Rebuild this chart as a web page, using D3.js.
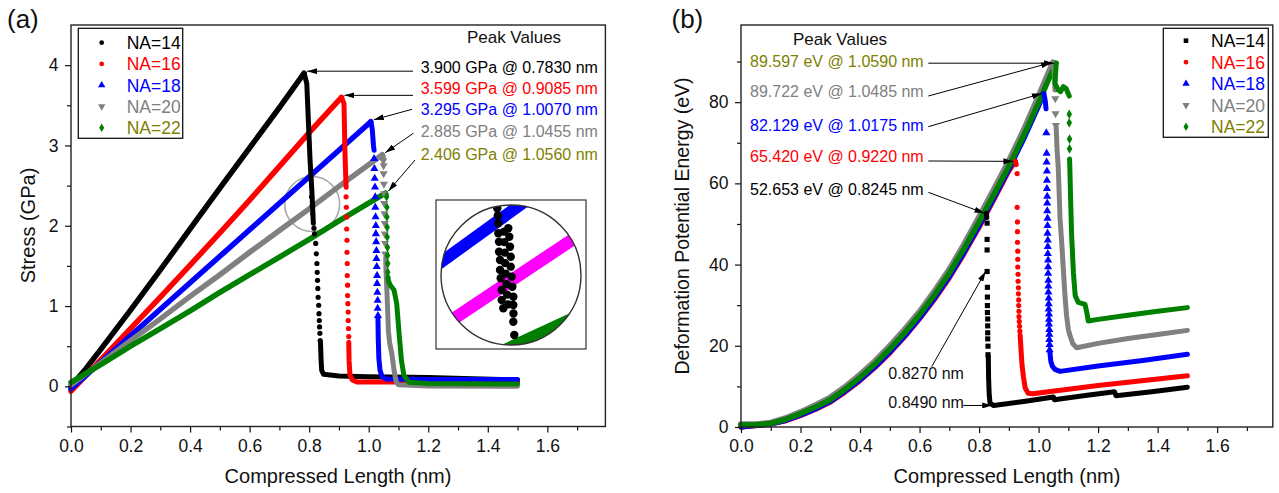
<!DOCTYPE html>
<html>
<head>
<meta charset="utf-8">
<script src="https://d3js.org/d3.v7.min.js"></script>
<style>
  body { margin: 0; background: #fff; }
  svg text { font-family: "Liberation Sans", Arial, sans-serif; }
</style>
</head>
<body>
<script>
// ---------------- shared ----------------
const seriesNames = ["NA=14", "NA=16", "NA=18", "NA=20", "NA=22"];
const markColors  = ["#000000", "#ff0000", "#0000ff", "#808080", "#008000"];
const labelColors = ["#000000", "#ff0000", "#0000ff", "#808080", "#808000"];
const shapesA = ["circle", "circle", "up", "down", "diamond"];
const shapesB = ["square", "circle", "up", "down", "diamond"];

const xTicks = [0, 0.2, 0.4, 0.6, 0.8, 1.0, 1.2, 1.4, 1.6];
const xMinor = [0.1, 0.3, 0.5, 0.7, 0.9, 1.1, 1.3, 1.5, 1.7];
const yTicksA = [0, 1, 2, 3, 4];
const yMinorA = [-0.5, 0.5, 1.5, 2.5, 3.5];
const yTicksB = [0, 20, 40, 60, 80];
const yMinorB = [10, 30, 50, 70, 90];

// ---------------- panel (a): stress vs compressed length ----------------
const aRise14 = [[0,0.00],[0.05,0.22],[0.10,0.46],[0.20,0.95],[0.30,1.45],[0.40,1.96],[0.50,2.47],[0.60,2.97],[0.70,3.47],[0.783,3.90]];
const aDrop14 = [[0.783,3.90],[0.792,3.77],[0.803,2.81],[0.809,2.44],[0.814,2.03]];
const aDots14 = [[0.808,2.36],[0.810,2.25],[0.812,2.15],[0.816,1.97],[0.818,1.90],[0.822,1.78],[0.824,1.65],[0.826,1.53],[0.827,1.42],[0.828,1.32],[0.829,1.22],[0.830,1.11],[0.832,1.01],[0.833,0.905],[0.834,0.82],[0.835,0.74],[0.836,0.66],[0.837,0.57]];
const aTail14 = [[0.838,0.55],[0.840,0.33],[0.842,0.20],[0.848,0.15],[0.90,0.13],[1.00,0.12],[1.20,0.11],[1.35,0.095],[1.50,0.08]];

const aRise16 = [[0,-0.06],[0.10,0.33],[0.20,0.72],[0.30,1.11],[0.40,1.51],[0.50,1.91],[0.60,2.32],[0.70,2.74],[0.80,3.16],[0.9085,3.599]];
const aDrop16 = [[0.9085,3.599],[0.917,3.52],[0.920,2.94],[0.924,2.48]];
const aDots16 = [[0.924,2.36],[0.925,2.23],[0.926,2.11],[0.926,1.96],[0.927,1.82],[0.927,1.67],[0.928,1.53],[0.928,1.38],[0.929,1.26],[0.929,1.13],[0.930,1.03],[0.931,0.925],[0.931,0.82],[0.932,0.72],[0.933,0.62]];
const aTail16 = [[0.933,0.55],[0.934,0.32],[0.937,0.14],[0.945,0.08],[0.96,0.055],[1.20,0.055],[1.50,0.055]];

const aRise18 = [[0,-0.03],[0.10,0.30],[0.20,0.63],[0.30,0.96],[0.40,1.29],[0.50,1.62],[0.60,1.95],[0.70,2.28],[0.80,2.61],[0.90,2.94],[1.007,3.295]];
const aDrop18 = [[1.007,3.295],[1.012,3.20],[1.016,3.00],[1.018,2.94]];
const aDots18 = [[1.018,2.835],[1.019,2.71],[1.020,2.59],[1.021,2.48],[1.022,2.36],[1.022,2.23],[1.023,2.11],[1.024,2.00],[1.024,1.90],[1.025,1.80],[1.026,1.69],[1.026,1.59],[1.027,1.49],[1.028,1.38],[1.028,1.28],[1.029,1.17],[1.030,1.07],[1.030,0.97],[1.031,0.88]];
const aTail18 = [[1.031,0.86],[1.032,0.60],[1.034,0.35],[1.038,0.20],[1.045,0.12],[1.06,0.09],[1.20,0.085],[1.50,0.085]];

const aRise20 = [[0,0.02],[0.10,0.29],[0.20,0.57],[0.30,0.84],[0.40,1.12],[0.50,1.39],[0.60,1.67],[0.70,1.94],[0.80,2.21],[0.90,2.49],[1.0455,2.885]];
const aDrop20 = [[1.0455,2.885],[1.049,2.86]];
const aDots20 = [[1.049,2.81],[1.050,2.75],[1.050,2.65],[1.051,2.52],[1.052,2.40],[1.052,2.28],[1.053,2.15],[1.054,2.03],[1.054,1.90],[1.055,1.78],[1.056,1.65]];
const aTail20 = [[1.057,1.60],[1.058,1.45],[1.061,1.20],[1.063,1.00],[1.066,0.70],[1.070,0.55],[1.078,0.40],[1.085,0.20],[1.092,0.06],[1.10,0.02],[1.20,0.005],[1.50,0.0]];

const aRise22 = [[0,0.05],[0.10,0.27],[0.20,0.50],[0.30,0.72],[0.40,0.94],[0.50,1.17],[0.60,1.39],[0.70,1.61],[0.80,1.83],[0.90,2.06],[1.056,2.406]];
const aDrop22 = [[1.056,2.406],[1.059,2.39]];
const aDots22 = [[1.060,2.36],[1.061,2.23],[1.061,2.11],[1.062,1.98],[1.062,1.86],[1.063,1.73],[1.063,1.63],[1.064,1.53],[1.064,1.42]];
const aTail22 = [[1.065,1.36],[1.066,1.32],[1.072,1.26],[1.085,1.20],[1.094,1.03],[1.102,0.66],[1.110,0.32],[1.118,0.14],[1.135,0.05],[1.20,0.035],[1.50,0.03]];

const peakTextA = ["3.900 GPa @ 0.7830 nm", "3.599 GPa @ 0.9085 nm", "3.295 GPa @ 1.0070 nm", "2.885 GPa @ 1.0455 nm", "2.406 GPa @ 1.0560 nm"];
const peakA = [[0.783,3.900],[0.9085,3.599],[1.007,3.295],[1.0455,2.885],[1.056,2.406]];

// magnified view (unit circle coordinates)
const insetBlue    = [[-1.2,0.04],[0.35,1.16]];
const insetMagenta = [[-1.2,-0.88],[1.2,0.72]];
const insetGreen   = [[-0.2,-1.11],[1.2,-0.46]];
const insetDots = [[-0.196,0.953],[-0.188,0.85],[-0.181,0.739],[-0.181,0.596],[-0.171,0.476],[-0.171,0.333],[-0.157,0.214],[-0.157,0.071],[-0.147,-0.047],[-0.133,-0.214],[-0.133,-0.357],[-0.110,-0.476],
  [-0.039,0.667],[-0.024,0.547],[-0.014,0.404],[-0.004,0.261],[-0.004,0.119],[0.010,-0.024],[0.019,-0.167],[0.033,-0.310],[0.033,-0.429],[0.035,-0.55],[0.033,-0.667],[0.047,-0.857],
  [-0.10,0.62],[-0.095,0.47],[-0.09,0.32],[-0.085,0.17],[-0.075,0.02],[-0.065,-0.13],[-0.055,-0.28],[-0.04,-0.42]];

// ---------------- panel (b): deformation potential energy ----------------
const bRise14 = [[0,0.0],[0.05,0.4],[0.10,0.8],[0.15,1.7],[0.20,3.0],[0.25,4.6],[0.30,6.4],[0.35,9.0],[0.40,11.8],[0.45,15.0],[0.50,18.7],[0.55,22.7],[0.60,27.1],[0.65,32.0],[0.70,37.4],[0.75,43.4],[0.80,49.8],[0.8245,52.653]];
const bDrop14 = [[0.8245,52.653],[0.826,51.6]];
const bDots14 = [[0.827,50.2],[0.827,46.2],[0.827,43.6],[0.827,38.3],[0.828,34.4],[0.828,32.0],[0.828,29.9],[0.828,28.2],[0.829,26.6],[0.829,24.9],[0.829,23.2],[0.829,21.7],[0.830,19.9],[0.830,17.8]];
const bTail14 = [[0.831,17.4],[0.832,12.0],[0.834,8.0],[0.837,5.8],[0.849,5.3],[0.95,6.3],[1.05,7.4],[1.053,6.7],[1.15,7.7],[1.255,8.7],[1.26,7.7],[1.38,8.7],[1.50,9.8]];

const bRise16 = [[0,0.0],[0.05,0.3],[0.10,0.7],[0.15,1.5],[0.20,2.8],[0.25,4.3],[0.30,6.1],[0.35,8.6],[0.40,11.4],[0.45,14.6],[0.50,18.2],[0.55,22.2],[0.60,26.6],[0.65,31.4],[0.70,36.7],[0.75,42.7],[0.80,49.1],[0.85,56.0],[0.90,63.0],[0.922,65.42]];
const bDrop16 = [[0.922,65.42],[0.925,64.6]];
const bDots16 = [[0.928,62.4],[0.928,54.1],[0.929,50.5],[0.929,48.1],[0.929,45.5],[0.930,43.3],[0.930,41.3],[0.930,39.4],[0.931,37.6],[0.931,35.9],[0.932,34.3],[0.932,32.8],[0.933,31.3],[0.933,29.9],[0.934,28.5],[0.934,27.2],[0.935,26.0],[0.936,24.8],[0.937,23.6]];
const bTail16 = [[0.938,22.6],[0.941,19.0],[0.944,15.5],[0.949,12.4],[0.955,9.6],[0.965,8.3],[0.98,8.2],[1.10,9.3],[1.20,10.2],[1.30,11.0],[1.40,11.8],[1.50,12.6]];

const bRise18 = [[0,0.0],[0.05,0.35],[0.10,0.75],[0.15,1.6],[0.20,2.9],[0.25,4.45],[0.30,6.25],[0.35,8.8],[0.40,11.6],[0.45,14.8],[0.50,18.4],[0.55,22.4],[0.60,26.8],[0.65,31.7],[0.70,37.0],[0.75,43.0],[0.80,49.5],[0.85,56.4],[0.90,63.4],[0.95,70.9],[1.00,79.0],[1.0175,82.129]];
const bDrop18 = [[1.0175,82.129],[1.022,80.5],[1.025,78.4]];
const bDots18 = [[1.026,72.4],[1.027,67.4],[1.027,65.2],[1.028,63.0],[1.028,60.7],[1.028,58.7],[1.029,56.8],[1.029,55.1],[1.029,53.2],[1.030,51.4],[1.030,49.6],[1.030,47.7],[1.031,46.0],[1.031,44.4],[1.031,42.7],[1.032,41.1],[1.032,39.4],[1.032,37.8],[1.033,36.1],[1.033,34.7],[1.033,33.2],[1.034,31.7],[1.034,30.3],[1.034,29.0],[1.035,27.8],[1.035,26.5],[1.035,25.3],[1.036,24.0],[1.036,22.8],[1.036,21.5],[1.037,20.3],[1.037,19.0]];
const bTail18 = [[1.038,18.5],[1.041,16.2],[1.046,15.0],[1.055,14.2],[1.072,13.7],[1.20,15.0],[1.35,16.4],[1.50,17.9]];

const bRise20 = [[0,0.6],[0.05,0.6],[0.10,1.0],[0.15,2.1],[0.20,3.6],[0.25,5.3],[0.30,7.2],[0.35,9.8],[0.40,12.8],[0.45,16.1],[0.50,19.9],[0.55,23.9],[0.60,28.3],[0.65,33.3],[0.70,38.7],[0.75,44.9],[0.80,51.6],[0.85,58.4],[0.90,65.4],[0.95,73.0],[1.00,81.3],[1.0485,89.722]];
const bDrop20 = [[1.0485,89.722],[1.053,87.0],[1.055,83.0]];
const bDots20 = [[1.056,80.9],[1.057,77.2],[1.058,74.3]];
const bTail20 = [[1.059,73.9],[1.062,68.5],[1.066,63.9],[1.072,51.5],[1.078,45.0],[1.083,39.0],[1.089,32.0],[1.094,27.4],[1.100,24.0],[1.106,22.4],[1.115,20.5],[1.128,19.5],[1.20,20.6],[1.30,21.8],[1.40,22.8],[1.50,23.8]];

const bRise22 = [[0,0.5],[0.05,0.5],[0.10,0.9],[0.15,1.9],[0.20,3.3],[0.25,4.9],[0.30,6.7],[0.35,9.3],[0.40,12.2],[0.45,15.5],[0.50,19.2],[0.55,23.2],[0.60,27.6],[0.65,32.5],[0.70,37.9],[0.75,44.0],[0.80,50.5],[0.85,57.3],[0.90,64.2],[0.95,71.8],[1.00,79.8],[1.03,85.0],[1.059,89.597]];
const bDrop22 = [[1.059,89.597],[1.058,88.0],[1.055,84.6],[1.066,83.0],[1.074,82.6],[1.083,83.8],[1.092,83.4],[1.103,81.5]];
const bDots22 = [[1.103,77.0],[1.103,74.9],[1.104,70.9],[1.104,68.5]];
const bTail22 = [[1.104,66.0],[1.105,63.9],[1.108,55.0],[1.111,47.3],[1.117,38.0],[1.123,32.4],[1.133,30.7],[1.148,30.4],[1.156,30.2],[1.162,28.2],[1.167,26.1],[1.20,26.5],[1.30,27.5],[1.40,28.5],[1.50,29.4]];

const peakTextB = ["52.653 eV @ 0.8245 nm", "65.420 eV @ 0.9220 nm", "82.129 eV @ 1.0175 nm", "89.722 eV @ 1.0485 nm", "89.597 eV @ 1.0590 nm"];
const peakB = [[0.8245,52.653],[0.922,65.42],[1.0175,82.129],[1.0485,89.722],[1.059,89.597]];
const breakLabels = ["0.8270 nm", "0.8490 nm"];
const breakPoints = [[0.827,38.3],[0.849,5.3]];

// ---------------- drawing ----------------
const svg = d3.select("body").append("svg").attr("width", 1279).attr("height", 493);
const defs = svg.append("defs");
defs.append("marker").attr("id", "arrow")
  .attr("viewBox", "0 0 10 6").attr("refX", 10).attr("refY", 3)
  .attr("markerWidth", 10).attr("markerHeight", 6)
  .attr("markerUnits", "userSpaceOnUse").attr("orient", "auto")
  .append("path").attr("d", "M0,0 L10,3 L0,6 Z").attr("fill", "#000");

const symbolTypes = { circle: d3.symbolCircle, square: d3.symbolSquare, up: d3.symbolTriangle, down: d3.symbolTriangle, diamond: d3.symbolDiamond };
const symbolSizes = { circle: 19, square: 24, up: 26, down: 26, diamond: 24 };

function drawMarks(g, pts, x, y, shape, color, scale) {
  const sym = d3.symbol().type(symbolTypes[shape]).size(symbolSizes[shape] * (scale || 1));
  g.selectAll(null).data(pts).enter().append("path")
    .attr("d", sym)
    .attr("transform", d => `translate(${x(d[0])},${y(d[1])})` + (shape === "down" ? " rotate(180)" : ""))
    .attr("fill", color);
}

function drawLine(g, pts, x, y, color, width) {
  g.append("path").datum(pts)
    .attr("d", d3.line().x(d => x(d[0])).y(d => y(d[1])))
    .attr("fill", "none").attr("stroke", color).attr("stroke-width", width)
    .attr("stroke-linejoin", "round").attr("stroke-linecap", "round");
}

function drawFrame(g, x, y, yTicks, yMinor, yFormat) {
  const [x0, x1] = x.range(), [y0, y1] = y.range();
  const ax = g.append("g").attr("transform", `translate(0,${y0})`)
    .call(d3.axisBottom(x).tickValues(xTicks).tickSize(6).tickPadding(6.8).tickFormat(d3.format(".1f")));
  const axm = g.append("g").attr("transform", `translate(0,${y0})`)
    .call(d3.axisBottom(x).tickValues(xMinor).tickSize(4).tickFormat(""));
  const ay = g.append("g").attr("transform", `translate(${x0},0)`)
    .call(d3.axisLeft(y).tickValues(yTicks).tickSize(6).tickPadding(6.5).tickFormat(yFormat));
  const aym = g.append("g").attr("transform", `translate(${x0},0)`)
    .call(d3.axisLeft(y).tickValues(yMinor).tickSize(4).tickFormat(""));
  [ax, axm, ay, aym].forEach(a => {
    a.select(".domain").remove();
    a.attr("font-family", null).attr("font-size", null);
    a.selectAll("line").attr("stroke", "#111").attr("stroke-width", 1.2);
    a.selectAll("text").attr("fill", "#111").style("font-size", "17.5px");
  });
  g.append("rect").attr("x", x0).attr("y", y1).attr("width", x1 - x0).attr("height", y0 - y1)
    .attr("fill", "none").attr("stroke", "#222").attr("stroke-width", 1.4);
}

function drawLegend(g, x, y, w, h, mx, tx, rows, shapes) {
  g.append("rect").attr("x", x).attr("y", y).attr("width", w).attr("height", h)
    .attr("fill", "#fff").attr("stroke", "#111").attr("stroke-width", 1.3);
  seriesNames.forEach((name, i) => {
    const cy = rows[0] + i * rows[1];
    drawMarks(g, [[0, 0]], () => mx, () => cy, shapes[i], markColors[i], 0.9);
    g.append("text").attr("x", tx).attr("y", cy + 6.3).attr("fill", labelColors[i])
      .style("font-size", "17.5px").text(name);
  });
}

// ===== panel (a) =====
const xA = d3.scaleLinear().domain([0, 1.795]).range([71, 605.4]);
const yA = d3.scaleLinear().domain([-0.5, 4.5]).range([426.5, 25]);
const gA = svg.append("g");

// circle marking the magnified region
gA.append("circle").attr("cx", xA(0.81)).attr("cy", yA(2.27)).attr("r", 27.5)
  .attr("fill", "none").attr("stroke", "#aaa").attr("stroke-width", 1.6);

const aRise = [aRise14, aRise16, aRise18, aRise20, aRise22];
const aDrop = [aDrop14, aDrop16, aDrop18, aDrop20, aDrop22];
const aDots = [aDots14, aDots16, aDots18, aDots20, aDots22];
const aTail = [aTail14, aTail16, aTail18, aTail20, aTail22];
aRise.forEach((d, i) => drawLine(gA, d, xA, yA, markColors[i], 5.5));
aTail.forEach((d, i) => drawLine(gA, d, xA, yA, markColors[i], 5));
aDrop.forEach((d, i) => drawLine(gA, d, xA, yA, markColors[i], 5));
aDots.forEach((d, i) => drawMarks(gA, d, xA, yA, shapesA[i], markColors[i], 1.1));

drawFrame(gA, xA, yA, yTicksA, yMinorA, d3.format("d"));
drawLegend(gA, 78.3, 28.3, 104.4, 110, 101.7, 126.7, [42.7, 21.25], shapesA);

// peak annotations (a)
gA.append("text").attr("x", 514).attr("y", 42.8).attr("text-anchor", "middle")
  .style("font-size", "17px").attr("fill", "#111").text("Peak Values");
const rowsA = [67.7, 88.3, 109.3, 131.7, 154.3];
const arrowStartA = [[413, null], [413, null], [412, 109.3], [413.3, 133.3], [415, 160]];
peakA.forEach((p, i) => {
  gA.append("text").attr("x", 420.7).attr("y", rowsA[i] + 5.7).attr("fill", labelColors[i])
    .style("font-size", "16px").text(peakTextA[i]);
  const tx = xA(p[0]) + 3, ty = yA(p[1]) - 2;
  const s = arrowStartA[i];
  gA.append("line").attr("x1", s[0]).attr("y1", s[1] === null ? ty : s[1]).attr("x2", tx).attr("y2", ty)
    .attr("stroke", "#000").attr("stroke-width", 1).attr("marker-end", "url(#arrow)");
});

// magnified inset
const uS = d3.scaleLinear().domain([-1, 1]).range([441, 581]);
const vS = d3.scaleLinear().domain([-1, 1]).range([345, 205]);
const gI = gA.append("g");
gI.append("rect").attr("x", 436).attr("y", 200).attr("width", 150).attr("height", 149)
  .attr("fill", "#fff").attr("stroke", "#333").attr("stroke-width", 1.2);
defs.append("clipPath").attr("id", "insetClip").append("circle")
  .attr("cx", uS(0)).attr("cy", vS(0)).attr("r", uS(1) - uS(0));
const gC = gI.append("g").attr("clip-path", "url(#insetClip)");
gC.append("path").datum(insetBlue).attr("d", d3.line().x(d => uS(d[0])).y(d => vS(d[1])))
  .attr("stroke", "#0000ff").attr("stroke-width", 12).attr("fill", "none");
gC.append("path").datum(insetMagenta).attr("d", d3.line().x(d => uS(d[0])).y(d => vS(d[1])))
  .attr("stroke", "#ff00ff").attr("stroke-width", 12.5).attr("fill", "none");
gC.append("path").datum(insetGreen).attr("d", d3.line().x(d => uS(d[0])).y(d => vS(d[1])))
  .attr("stroke", "#008000").attr("stroke-width", 10.5).attr("fill", "none");
gC.selectAll(null).data(insetDots).enter().append("circle")
  .attr("cx", d => uS(d[0])).attr("cy", d => vS(d[1])).attr("r", 4.2).attr("fill", "#000");
gI.append("circle").attr("cx", uS(0)).attr("cy", vS(0)).attr("r", uS(1) - uS(0))
  .attr("fill", "none").attr("stroke", "#333").attr("stroke-width", 1.4);

// axis titles (a)
gA.append("text").attr("x", 338).attr("y", 482.5).attr("text-anchor", "middle")
  .style("font-size", "20px").attr("fill", "#111").text("Compressed Length (nm)");
gA.append("text").attr("transform", "translate(35,225.5) rotate(-90)").attr("text-anchor", "middle")
  .style("font-size", "20px").attr("fill", "#111").text("Stress (GPa)");
gA.append("text").attr("x", 7).attr("y", 27.5).style("font-size", "26px").attr("fill", "#111").text("(a)");

// ===== panel (b) =====
const xB = d3.scaleLinear().domain([0, 1.787]).range([741, 1272.8]);
const yB = d3.scaleLinear().domain([0, 99]).range([427, 25]);
const gB = svg.append("g");

const bRise = [bRise14, bRise16, bRise18, bRise20, bRise22];
const bDrop = [bDrop14, bDrop16, bDrop18, bDrop20, bDrop22];
const bDots = [bDots14, bDots16, bDots18, bDots20, bDots22];
const bTail = [bTail14, bTail16, bTail18, bTail20, bTail22];
const bWidth = [5, 5, 5, 6.5, 5.5];
bRise.forEach((d, i) => drawLine(gB, d, xB, yB, markColors[i], bWidth[i]));
bTail.forEach((d, i) => drawLine(gB, d, xB, yB, markColors[i], 5));
bDrop.forEach((d, i) => drawLine(gB, d, xB, yB, markColors[i], 5));
bDots.forEach((d, i) => drawMarks(gB, d, xB, yB, shapesB[i], markColors[i], 1.1));

drawFrame(gB, xB, yB, yTicksB, yMinorB, d3.format("d"));
drawLegend(gB, 1163.3, 28.3, 105, 109, 1186, 1211, [40.7, 21.5], shapesB);

// peak annotations (b)
gB.append("text").attr("x", 840).attr("y", 45.4).attr("text-anchor", "middle")
  .style("font-size", "17px").attr("fill", "#111").text("Peak Values");
const rowsB = [189.3, 156.7, 125, 91.7, 61.7];
const arrowStartB = [192.3, 161, 126.7, 96, null];
peakB.forEach((p, i) => {
  gB.append("text").attr("x", 750).attr("y", rowsB[i] + 5.7).attr("fill", labelColors[i])
    .style("font-size", "16px").text(peakTextB[i]);
  const tx = xB(p[0]) - 2, ty = yB(p[1]);
  gB.append("line").attr("x1", 928.3).attr("y1", arrowStartB[i] === null ? ty : arrowStartB[i])
    .attr("x2", tx).attr("y2", ty)
    .attr("stroke", "#000").attr("stroke-width", 1).attr("marker-end", "url(#arrow)");
});

// fracture points (b)
const breakRows = [373.3, 402.3];
const breakStart = [[931.7, 366.7], [963.3, null]];
breakPoints.forEach((p, i) => {
  gB.append("text").attr("x", 888.3).attr("y", breakRows[i] + 5.7).attr("fill", "#111")
    .style("font-size", "16px").text(breakLabels[i]);
  const tx = xB(p[0]) - 1.5, ty = yB(p[1]);
  gB.append("line").attr("x1", breakStart[i][0]).attr("y1", breakStart[i][1] === null ? ty : breakStart[i][1])
    .attr("x2", tx).attr("y2", ty)
    .attr("stroke", "#000").attr("stroke-width", 1).attr("marker-end", "url(#arrow)");
});

// axis titles (b)
gB.append("text").attr("x", 1007).attr("y", 482.5).attr("text-anchor", "middle")
  .style("font-size", "20px").attr("fill", "#111").text("Compressed Length (nm)");
gB.append("text").attr("transform", "translate(689,226) rotate(-90)").attr("text-anchor", "middle")
  .style("font-size", "19.5px").attr("fill", "#111").text("Deformation Potential Energy (eV)");
gB.append("text").attr("x", 671.5).attr("y", 27.5).style("font-size", "26px").attr("fill", "#111").text("(b)");
</script>
</body>
</html>
